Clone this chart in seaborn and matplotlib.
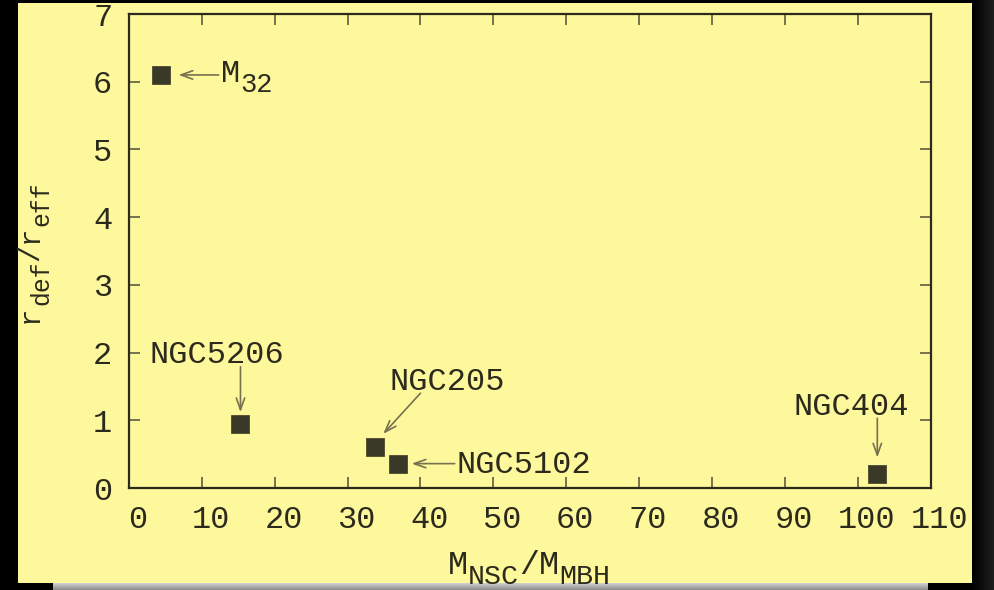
import numpy as np
import pandas as pd
import matplotlib
matplotlib.use("Agg")
import matplotlib.pyplot as plt
import matplotlib.transforms as mtransforms
import seaborn as sns

# Galaxy sample: NSC-to-MBH mass ratio vs. core (deficit) radius in units of r_eff
galaxies = ["M32", "NGC5206", "NGC205", "NGC5102", "NGC404"]
mass_ratio = [4.4, 15.3, 33.7, 36.9, 102.7]
r_def_over_r_eff = [6.1, 0.95, 0.60, 0.36, 0.20]

# Plain labels: text, baseline anchor (x, y) in data units, horizontal alignment
plain_labels = ["NGC5206", "NGC205", "NGC5102", "NGC404"]
plain_pos = [(12.0, 1.85), (35.7, 1.45), (45.0, 0.225), (99.1, 1.08)]
plain_ha = ["center", "left", "left", "center"]
# M32 label has a subscript, drawn piecewise from its baseline start
m32_parts = [("M", False), ("32", True)]
m32_pos = (12.6, 6.0)

# Arrow tail and head in data units, one per galaxy
arrow_tail = [(12.3, 6.1), (15.3, 1.79), (40.0, 1.40), (44.7, 0.36), (102.7, 1.03)]
arrow_head = [(6.8, 6.1), (15.3, 1.12), (34.9, 0.80), (38.8, 0.36), (102.7, 0.45)]

x_ticks = list(range(0, 111, 10))
y_ticks = list(range(0, 8))
xlabel_parts = [("M", False), ("NSC", True), ("/", False), ("M", False), ("MBH", True)]
ylabel_parts = [("r", False), ("def", True), ("/", False), ("r", False), ("eff", True)]

df = pd.DataFrame({"galaxy": galaxies, "ratio": mass_ratio, "rdef": r_def_over_r_eff})

sns.set_theme(style="ticks")
plt.rcParams["font.family"] = ["Liberation Mono", "DejaVu Sans Mono"]

paper = "#fef89c"
ink = "#2c2a1d"
tick_col = "#5f5c40"
arrow_col = "#76714f"
FS = 23

fig = plt.figure(figsize=(9.94, 5.90), dpi=100, facecolor="black")
renderer = fig.canvas.get_renderer()
ident = mtransforms.IdentityTransform()

# slide background panel
fig.patches.append(plt.Rectangle((18 / 994, 7 / 590), 954 / 994, 580 / 590,
                                 transform=fig.transFigure, facecolor=paper,
                                 edgecolor="none", zorder=0))
# gray shadow strip under the panel
shadow = fig.add_axes([53 / 994, 0, 875 / 994, 7 / 590], zorder=0)
shadow.imshow(np.linspace(0.82, 0.55, 16).reshape(-1, 1) * np.ones((1, 50)),
              cmap="gray", vmin=0, vmax=1, aspect="auto")
shadow.axis("off")
# dark fade on the right edge
fade = fig.add_axes([972 / 994, 0, 22 / 994, 1], zorder=0)
fade.imshow(np.ones((50, 1)) * np.linspace(0.0, 0.12, 30).reshape(1, -1),
            cmap="gray", vmin=0, vmax=1, aspect="auto")
fade.axis("off")


def rich_text(x0, y0, parts, size, sub_scale=0.85, drop=10, vertical=False, center=False):
    """Draw text with near-full-size subscripts, starting at baseline point (x0, y0) in pixels."""
    rot = 90 if vertical else 0
    items = []
    for s, sub in parts:
        t = fig.text(0, 0, s, fontsize=size * (sub_scale if sub else 1), color=ink,
                     transform=ident, rotation=rot, rotation_mode="anchor",
                     ha="left", va="baseline", zorder=6)
        bb = t.get_window_extent(renderer)
        items.append((t, sub, bb.height if vertical else bb.width))
    total = sum(w for _, _, w in items)
    pos = -total / 2 if center else 0.0
    for t, sub, w in items:
        d = drop if sub else 0
        if vertical:
            t.set_position((x0 + d, y0 + pos))
        else:
            t.set_position((x0 + pos, y0 - d))
        pos += w


ax = fig.add_axes([129 / 994, 102 / 590, 801.5 / 994, 474 / 590], zorder=2)
ax.patch.set_alpha(0)

sns.scatterplot(data=df, x="ratio", y="rdef", marker="s", s=150,
                color="#3a3826", edgecolor="#3a3826", linewidth=0.5,
                ax=ax, legend=False, zorder=5)

ax.set_xlim(0, 110)
ax.set_ylim(0, 7)
ax.set_xticks(x_ticks)
ax.set_yticks(y_ticks)
ax.tick_params(direction="in", length=8, width=1.2, color=tick_col,
               labelsize=FS, labelcolor=ink, top=True, right=True, pad=12)
shift = mtransforms.ScaledTranslation(9 / 100, 0, fig.dpi_scale_trans)
for lab in ax.get_xticklabels():
    lab.set_transform(lab.get_transform() + shift)
for sp in ax.spines.values():
    sp.set_visible(True)
    sp.set_color(ink)
    sp.set_linewidth(1.6)
ax.set_xlabel("")
ax.set_ylabel("")

for tail, head in zip(arrow_tail, arrow_head):
    ax.annotate("", xy=head, xytext=tail,
                arrowprops=dict(arrowstyle="->,head_length=0.7,head_width=0.25",
                                color=arrow_col, lw=1.2, shrinkA=0, shrinkB=0))
for txt, pos, ha in zip(plain_labels, plain_pos, plain_ha):
    ax.text(pos[0], pos[1], txt, ha=ha, va="baseline", fontsize=FS, color=ink)

mx, my = ax.transData.transform(m32_pos)
rich_text(mx, my, m32_parts, FS)

# axis titles, drawn in pixel space
rich_text(529, 16, xlabel_parts, 24, center=True)
rich_text(38, 590 - 252, ylabel_parts, 21, drop=10, vertical=True, center=True)

fig.savefig("out.png", dpi=100, facecolor="black")
